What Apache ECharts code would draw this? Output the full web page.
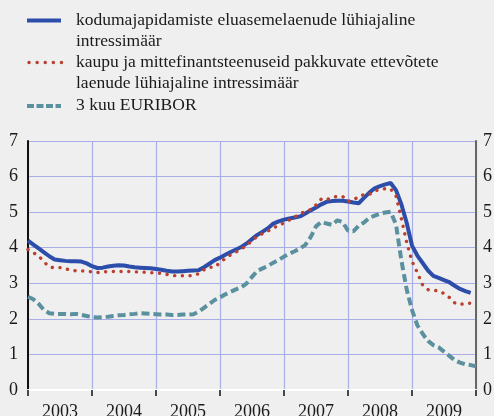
<!DOCTYPE html>
<html>
<head>
<meta charset="utf-8">
<script src="https://cdn.jsdelivr.net/npm/echarts@6/dist/echarts.min.js"></script>
<style>
  html, body { margin: 0; padding: 0; background: #efefef; }
  #main { width: 494px; height: 416px; }
</style>
</head>
<body>
<div id="main"></div>
<script>
// aastad (x-telje sildid), kuud alates 2003 jaanuarist
let years = ["2003", "2004", "2005", "2006", "2007", "2008", "2009"];

let legendNames = [
  ["kodumajapidamiste eluasemelaenude lühiajaline", "intressimäär"],
  ["kaupu ja mittefinantsteenuseid pakkuvate ettevõtete", "laenude lühiajaline intressimäär"],
  ["3 kuu EURIBOR"],
];

// kodumajapidamiste eluasemelaenud (kuu kaupa)
let housing = [
  4.20, 4.09, 3.98, 3.87, 3.76, 3.67, 3.65, 3.63, 3.62, 3.62, 3.61, 3.56,
  3.48, 3.43, 3.44, 3.47, 3.49, 3.51, 3.50, 3.47, 3.45, 3.44, 3.43, 3.42,
  3.40, 3.38, 3.35, 3.33, 3.33, 3.34, 3.35, 3.36, 3.37, 3.45, 3.55, 3.65,
  3.72, 3.80, 3.88, 3.95, 4.02, 4.12, 4.24, 4.36, 4.45, 4.55, 4.68, 4.74,
  4.79, 4.82, 4.85, 4.88, 4.96, 5.05, 5.13, 5.22, 5.29, 5.31, 5.32, 5.32,
  5.30, 5.27, 5.25, 5.40, 5.55, 5.67, 5.73, 5.78, 5.82, 5.62, 5.22, 4.70,
  4.06, 3.78, 3.57, 3.36, 3.21, 3.15, 3.09, 3.03, 2.93, 2.84, 2.78, 2.73,
];

// ettevõtete laenud
let business = [
  3.95, 3.86, 3.77, 3.60, 3.46, 3.43, 3.44, 3.41, 3.37, 3.35, 3.35, 3.34,
  3.32, 3.30, 3.32, 3.33, 3.33, 3.33, 3.33, 3.33, 3.32, 3.32, 3.31, 3.30,
  3.29, 3.28, 3.25, 3.22, 3.21, 3.21, 3.21, 3.22, 3.27, 3.38, 3.45, 3.45,
  3.58, 3.70, 3.80, 3.88, 3.96, 4.07, 4.20, 4.32, 4.40, 4.47, 4.56, 4.62,
  4.70, 4.78, 4.86, 4.95, 5.02, 5.07, 5.20, 5.37, 5.35, 5.42, 5.44, 5.44,
  5.30, 5.33, 5.45, 5.49, 5.50, 5.60, 5.63, 5.66, 5.65, 5.45, 4.82, 4.15,
  3.62, 3.30, 2.95, 2.82, 2.80, 2.79, 2.71, 2.60, 2.45, 2.40, 2.44, 2.44,
];

// 3 kuu EURIBOR
let euribor = [
  2.62, 2.55, 2.42, 2.25, 2.16, 2.14, 2.14, 2.14, 2.13, 2.14, 2.11, 2.08,
  2.05, 2.04, 2.05, 2.06, 2.08, 2.10, 2.11, 2.13, 2.14, 2.16, 2.15, 2.14,
  2.13, 2.12, 2.12, 2.11, 2.11, 2.12, 2.12, 2.13, 2.20, 2.31, 2.42, 2.53,
  2.60, 2.69, 2.76, 2.83, 2.89, 3.00, 3.18, 3.35, 3.42, 3.49, 3.58, 3.66,
  3.75, 3.83, 3.90, 3.98, 4.08, 4.30, 4.60, 4.73, 4.68, 4.64, 4.77, 4.72,
  4.48, 4.46, 4.62, 4.71, 4.84, 4.90, 4.96, 4.99, 5.01, 4.65, 3.65, 2.83,
  2.25, 1.82, 1.58, 1.38, 1.26, 1.20, 1.08, 0.96, 0.84, 0.77, 0.72, 0.70,
  0.67,
];

let yTicks = [0, 1, 2, 3, 4, 5, 6, 7];

const BLUE = "#2c4daa";
const RED = "#b9402f";
const TEAL = "#5b909f";
const FONT = "Liberation Serif";

let myChart = echarts.init(document.getElementById("main"), null, { renderer: "canvas" });

let toPairs = (arr) => arr.map((v, i) => [i, v]);

let yAxisBase = {
  type: "value",
  min: yTicks[0],
  max: yTicks[yTicks.length - 1],
  interval: 1,
  axisTick: { show: false },
  axisLabel: { fontFamily: FONT, fontSize: 18, color: "#1a1a1a" },
};

// legend drawn by hand so the marker sits on the first text line
let legendGraphic = [];
let legendY = [21, 63, 106];
let lineGap = 21;
legendNames.forEach((lines, k) => {
  lines.forEach((t, j) => {
    legendGraphic.push({
      type: "text",
      left: 76,
      top: legendY[k] + j * lineGap - 10,
      style: { text: t, font: "17.5px '" + FONT + "'", fill: "#1a1a1a" },
    });
  });
});
legendGraphic.push(
  { type: "line", shape: { x1: 27, y1: 20.5, x2: 61, y2: 20.5 }, style: { stroke: BLUE, lineWidth: 4 } },
  { type: "line", shape: { x1: 29, y1: 62.5, x2: 62, y2: 62.5 }, style: { stroke: RED, lineWidth: 3.4, lineDash: [0.1, 8], lineCap: "round" } },
  { type: "line", shape: { x1: 27, y1: 106, x2: 61, y2: 106 }, style: { stroke: TEAL, lineWidth: 4, lineDash: [7, 2.5] } }
);

let option = {
  backgroundColor: "#efefef",
  animation: false,
  grid: { left: 28, right: 18, top: 141, bottom: 26, containLabel: false, outerBoundsMode: "none" },
  graphic: legendGraphic,
  xAxis: {
    type: "value",
    min: 0,
    max: 84,
    interval: 12,
    axisLine: { show: true, lineStyle: { color: "#ffffff", width: 2 } },
    axisTick: {
      show: true,
      length: 6,
      customValues: [0, 12, 24, 36, 48, 60, 72, 84],
      lineStyle: { color: "#111", width: 1.5 },
    },
    axisLabel: {
      customValues: years.map((y, i) => i * 12 + 6),
      formatter: (v) => years[Math.round((v - 6) / 12)],
      fontFamily: FONT,
      fontSize: 18,
      color: "#1a1a1a",
      margin: 13,
    },
    splitLine: { show: true, lineStyle: { color: "#aaaee6", width: 1.2 } },
  },
  yAxis: [
    Object.assign({}, yAxisBase, {
      position: "left",
      axisLine: { show: true, lineStyle: { color: "#111", width: 2 } },
      axisLabel: Object.assign({}, yAxisBase.axisLabel, { margin: 10 }),
      splitLine: { show: true, lineStyle: { color: "#aaaee6", width: 1.2 } },
    }),
    Object.assign({}, yAxisBase, {
      position: "right",
      axisLine: { show: true, lineStyle: { color: "#666", width: 2 } },
      axisLabel: Object.assign({}, yAxisBase.axisLabel, { margin: 7 }),
      splitLine: { show: false },
    }),
  ],
  series: [
    {
      name: legendNames[0].join(" "),
      type: "line",
      data: toPairs(housing),
      showSymbol: false,
      lineStyle: { color: BLUE, width: 4 },
      z: 2,
    },
    {
      name: legendNames[2][0],
      type: "line",
      data: toPairs(euribor),
      showSymbol: false,
      lineStyle: { color: TEAL, width: 4, type: [8, 4] },
      z: 3,
    },
    {
      name: legendNames[1].join(" "),
      type: "line",
      data: toPairs(business),
      showSymbol: false,
      lineStyle: { color: RED, width: 3.4, type: [0.1, 7.6], cap: "round" },
      z: 4,
    },
  ],
};

myChart.setOption(option);
</script>
</body>
</html>
